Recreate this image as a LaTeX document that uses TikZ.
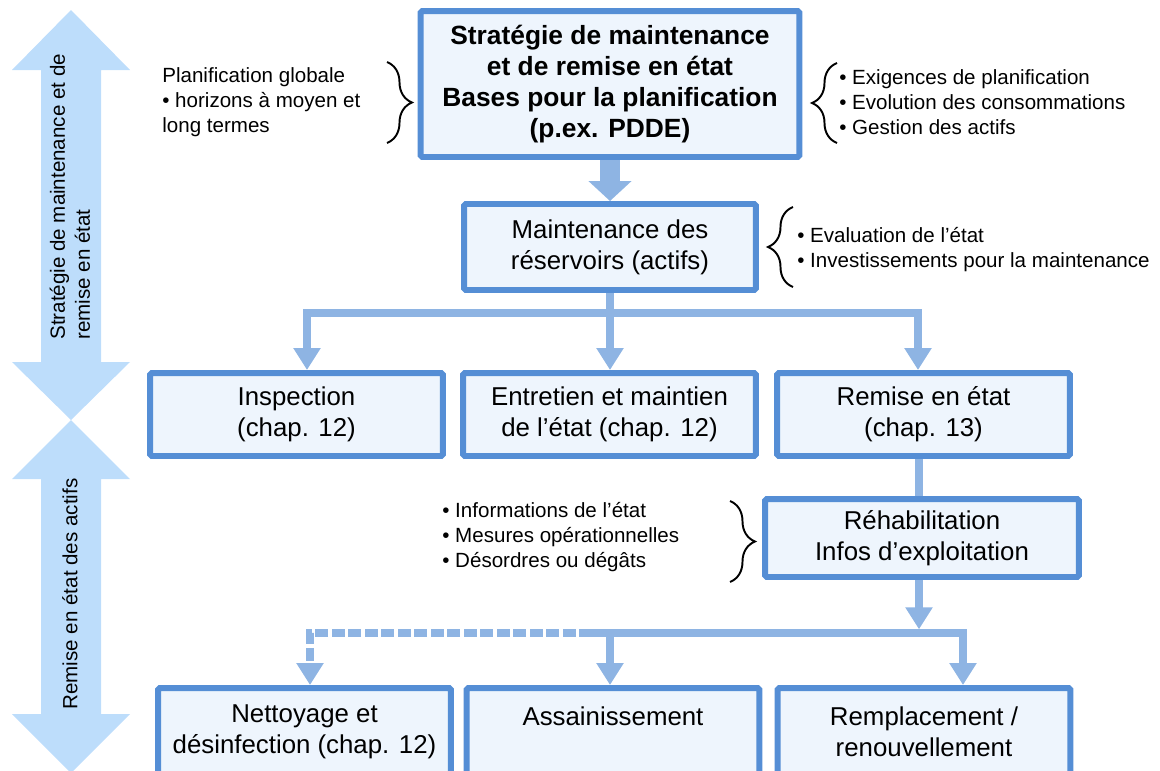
\documentclass[tikz,border=0pt]{standalone}
\usepackage{fontspec}
\setmainfont{Liberation Sans}
\usepackage{xcolor}
\usetikzlibrary{arrows.meta,decorations.pathreplacing}

\definecolor{boxline}{HTML}{558ED5}
\definecolor{boxfill}{HTML}{EEF5FD}
\definecolor{linkblue}{HTML}{8EB4E3}
\definecolor{bandblue}{HTML}{BDDDFB}

\begin{document}
\begin{tikzpicture}[x=0.02cm, y=-0.02cm,
    block/.style={rectangle, draw=boxline, fill=boxfill, line width=3.4pt, rounded corners=1pt, align=center, inner sep=0pt, font=\fontsize{14.7pt}{17.6pt}\selectfont},
    rowblock/.style={block, minimum width=5.86cm, minimum height=1.66cm},
    lowblock/.style={block, minimum width=5.86cm, minimum height=1.76cm},
    note/.style={align=left, inner sep=0pt, font=\fontsize{11.7pt}{14.2pt}\selectfont},
    band/.style={fill=bandblue},
    link/.style={draw=linkblue, line width=4.2pt},
    arrow/.style={link, -{Triangle[width=0.52cm, length=0.44cm]}},
    fat/.style={draw=linkblue, line width=11.9pt, -{Triangle[width=0.84cm, length=0.4cm]}},
    curly/.style={decorate, decoration={brace, amplitude=0.5cm}, line width=1.1pt}
]
\useasboundingbox (0,0) rectangle (1160,771);
\clip (0,0) rectangle (1160,771);

% Side bands
\fill[band] (71,10) -- (130,70) -- (101,70) -- (101,362) -- (130,362) -- (71,420) -- (12,362) -- (41,362) -- (41,70) -- (12,70) -- cycle;
\fill[band] (71,420) -- (130,479) -- (101,479) -- (101,714) -- (130,714) -- (71,773) -- (12,714) -- (41,714) -- (41,479) -- (12,479) -- cycle;
\node[note, rotate=90, anchor=west] (bandtop) at (70,340) {Stratégie de maintenance et de\\remise en état};
\node[note, rotate=90] (bandlow) at (70,594) {Remise en état des actifs};

% Strategy
\node[block, font=\bfseries\fontsize{15pt}{17.8pt}\selectfont, minimum width=7.58cm, minimum height=2.92cm] (strat) at (610,84) {Stratégie de maintenance\\et de remise en état\\Bases pour la planification\\(p.ex. PDDE)};

% Reservoir maintenance
\node[block, minimum width=5.84cm, minimum height=1.72cm] (maint) at (610,247) {Maintenance des\\réservoirs (actifs)};

% Inspection, upkeep, repair
\node[rowblock] (insp) at (296.5,414.5) {Inspection\\(chap. 12)};
\node[rowblock] (entr) at (609.5,414.5) {Entretien et maintien\\de l’état (chap. 12)};
\node[rowblock] (remise) at (923.5,414.5) {Remise en état\\(chap. 13)};

% Rehabilitation
\node[block, minimum width=6.28cm, minimum height=1.56cm] (rehab) at (922,538) {Réhabilitation\\Infos d’exploitation};

% Measures
\node[lowblock] (clean) at (304.5,732) {Nettoyage et\\désinfection (chap. 12)};
\node[lowblock] (sanit) at (613,732) {Assainissement\\~};
\node[lowblock] (renew) at (924,732) {Remplacement /\\renouvellement};

% Notes
\node[note, anchor=west] (global) at (162,102) {Planification globale\\• horizons à moyen et\\long termes};
\node[note, anchor=west] (needs) at (839,102) {• Exigences de planification\\• Evolution des consommations\\• Gestion des actifs};
\node[note, anchor=west] (state) at (797,249.5) {• Evaluation de l’état\\• Investissements pour la maintenance};
\node[note, anchor=west] (infos) at (442,537) {• Informations de l’état\\• Mesures opérationnelles\\• Désordres ou dégâts};

% Braces
\draw[curly] (387,62) -- (387,143);
\draw[curly] (837,143) -- (837,63);
\draw[curly] (793,287) -- (793,207);
\draw[curly] (730,501) -- (730,582);

% Junctions
\coordinate (fork) at (610,313);
\coordinate (forkL) at (307,313);
\coordinate (forkR) at (918,313);
\coordinate (rehabIn) at (919,478);
\coordinate (bar) at (919,633);
\coordinate (barL) at (310,633);
\coordinate (barM) at (610,633);
\coordinate (barR) at (963,633);
\coordinate (dashEnd) at (592,633);

% Arrows - main path
\draw[fat] (strat) -- (maint);
\draw[link] (maint) -- (fork);
\draw[arrow] (fork) -- (forkL) -- (forkL |- insp.north);
\draw[arrow] (fork) -- (fork |- entr.north);
\draw[arrow] (fork) -- (forkR) -- (forkR |- remise.north);
\draw[link] (remise.south -| rehabIn) -- (rehab.north -| rehabIn);
\draw[arrow, shorten >=2.1pt] (rehab.south -| bar) -- (bar);

% Arrows - measures
\draw[arrow] (dashEnd) -- (barR) -- (barR |- renew.north);
\draw[arrow] (barM) -- (barM |- sanit.north);
\draw[arrow, dash pattern=on 0.26cm off 0.07cm] (dashEnd) -- (barL) -- (barL |- clean.north);

\end{tikzpicture}
\end{document}
